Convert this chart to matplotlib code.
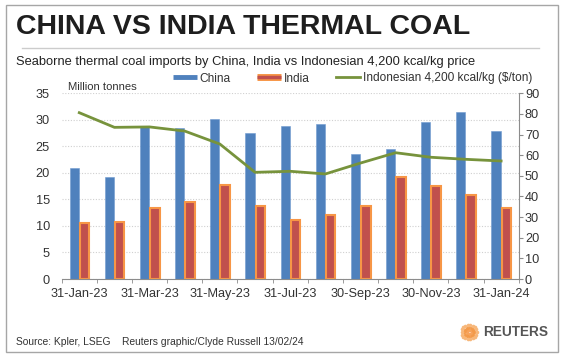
import numpy as np
import matplotlib
matplotlib.use('Agg')
import matplotlib.pyplot as plt
from matplotlib.lines import Line2D
from matplotlib.patches import Rectangle
import matplotlib.patheffects as pe

plt.rcParams['font.family'] = ['Liberation Sans', 'DejaVu Sans']

# month-end dates
months = ['31-Jan-23', '28-Feb-23', '31-Mar-23', '30-Apr-23', '31-May-23', '30-Jun-23',
          '31-Jul-23', '31-Aug-23', '30-Sep-23', '31-Oct-23', '30-Nov-23', '31-Dec-23',
          '31-Jan-24']
# seaborne thermal coal imports, million tonnes
china = [21.0, 19.3, 28.6, 28.4, 30.2, 27.5, 28.8, 29.2, 23.6, 24.5, 29.5, 31.5, 27.9]
india = [10.6, 10.7, 13.4, 14.6, 17.8, 13.7, 11.2, 12.1, 13.8, 19.2, 17.6, 15.8, 13.4]
# Indonesian 4,200 kcal/kg price, $/ton
indo_price = [80.6, 73.5, 73.7, 71.7, 65.4, 51.7, 52.2, 50.9, 56.2, 61.2, 59.0, 58.0, 57.2]

BLUE = '#4F81BD'
RED = '#C0504D'
ORANGE = '#F79646'
GREEN = '#77933C'
GREY = '#8C8C8C'

W, H = 567, 358
fig = plt.figure(figsize=(W / 100, H / 100), dpi=100)

def fx(px):
    return px / W

def fy(py):
    return 1 - py / H

# frame round the graphic
fig.patches.append(Rectangle((fx(6), fy(351.5)), fx(558) - fx(6), fy(5) - fy(351.5),
                             transform=fig.transFigure, fill=False,
                             edgecolor='#A6A6A6', lw=1))

fig.text(fx(16), fy(27), 'CHINA VS INDIA THERMAL COAL', fontsize=20.5, fontweight='bold',
         color='#1E1E1E', va='center', ha='left')
fig.add_artist(Line2D([fx(21.5), fx(539)], [fy(48.3), fy(48.3)],
                      transform=fig.transFigure, color='#CCCCCC', lw=1))
fig.text(fx(16), fy(62), 'Seaborne thermal coal imports by China, India vs Indonesian 4,200 kcal/kg price',
         fontsize=9.25, color='#222222', va='center', ha='left')

x = np.arange(len(months))
ax = fig.add_axes([fx(61.7), fy(279), fx(518.7) - fx(61.7), fy(93.3) - fy(279)])
ax.set_axisbelow(True)
ax.bar(x - 0.145, china, width=0.26, color=BLUE, edgecolor='#6F9AD0', lw=0.4)
ax.bar(x + 0.15, india, width=0.27, color=RED, edgecolor=ORANGE, lw=1.5)

ax.set_xlim(-0.5, len(months) - 0.5)
ax.set_ylim(0, 35)
ax.set_yticks(range(0, 36, 5))
ax.yaxis.grid(True, ls=(0, (1, 1.5)), color='#D0D0D0', lw=0.8)
for s in ['top', 'left', 'right']:
    ax.spines[s].set_visible(False)
ax.spines['bottom'].set_color(GREY)
ax.tick_params(axis='y', length=0, pad=8.5, labelsize=9.2, labelcolor='#333333')
ax.set_xticks(x[::2])
ax.set_xticklabels(months[::2])
ax.set_xticks(np.arange(-0.5, len(months), 1), minor=True)
ax.tick_params(axis='x', which='major', length=0, pad=6.5, labelsize=9.2, labelcolor='#333333')
ax.tick_params(axis='x', which='minor', length=3, color=GREY, direction='out')

ax2 = ax.twinx()
ax2.plot(x, indo_price, color=GREEN, lw=2, solid_joinstyle='round')
ax2.set_ylim(0, 90)
ax2.set_yticks(range(0, 91, 10))
for s in ['top', 'left', 'bottom']:
    ax2.spines[s].set_visible(False)
ax2.spines['right'].set_color(GREY)
ax2.tick_params(axis='y', length=3, color=GREY, pad=1.5, labelsize=9.2, labelcolor='#333333')

fig.text(fx(67.5), fy(87), 'Million tonnes', fontsize=8.1, color='#333333', va='center', ha='left')

handles = [
    Line2D([], [], color=BLUE, lw=3.5, solid_capstyle='butt'),
    Line2D([], [], color=RED, lw=2.5, solid_capstyle='butt',
           path_effects=[pe.Stroke(linewidth=5, foreground=ORANGE, capstyle='butt'), pe.Normal()]),
    Line2D([], [], color=GREEN, lw=2),
]
fig.legend(handles, ['China', 'India', 'Indonesian 4,200 kcal/kg ($/ton)'],
           loc='center left', bbox_to_anchor=(fx(172.5), fy(78.5)), ncol=3, frameon=False,
           fontsize=8.6, handlelength=2.05, handletextpad=0.2, columnspacing=2.2,
           borderpad=0, borderaxespad=0, labelcolor='#333333')

fig.text(fx(16), fy(342), 'Source: Kpler, LSEG    Reuters graphic/Clyde Russell 13/02/24',
         fontsize=7.4, color='#333333', va='center', ha='left')

# Reuters logo: ring of orange dots plus the word
cx, cy = 469 / 100, (H - 332) / 100
for r, n, c in [(0.025, 6, '#F7A35C'), (0.05, 12, '#F39A4A'), (0.075, 18, '#F7B77A')]:
    t = np.linspace(0, 2 * np.pi, n, endpoint=False)
    fig.add_artist(Line2D(cx + r * np.cos(t), cy + r * np.sin(t), transform=fig.dpi_scale_trans,
                          ls='none', marker='o', ms=2.6, color=c, mec='none'))
fig.text(fx(483), fy(332), 'REUTERS', fontsize=9.8, fontweight='bold', color='#555555',
         va='center', ha='left')

fig.savefig('out.png', dpi=100)
